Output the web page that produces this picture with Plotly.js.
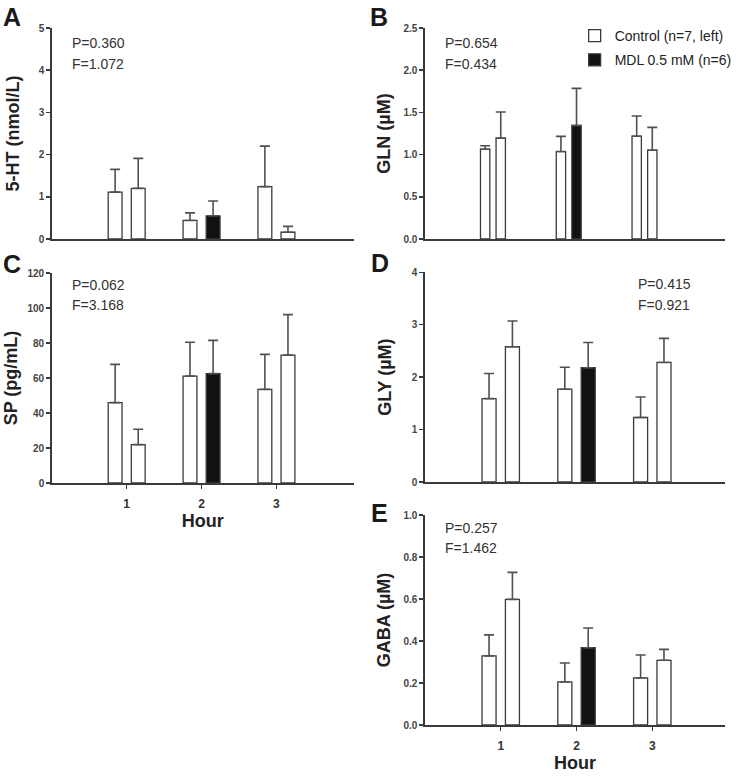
<!DOCTYPE html>
<html>
<head>
<meta charset="utf-8">
<script src="https://cdn.plot.ly/plotly-3.0.1.min.js"></script>
<style>
  html, body { margin: 0; padding: 0; background: #ffffff; }
  #chart { width: 737px; height: 778px; }
</style>
</head>
<body>
<div id="chart"></div>
<script>
// ---------------- data ----------------
const hours = [1, 2, 3];
const hourLabels = ['1', '2', '3'];

const seriesNames = ['Control (n=7, left)', 'MDL 0.5 mM (n=6)'];

// Panel A: 5-HT (nmol/L)
const htLeft = [1.11, 0.44, 1.24];
const htLeftErr = [0.54, 0.18, 0.96];
const htRight = [1.20, 0.55, 0.16];
const htRightErr = [0.71, 0.35, 0.14];

// Panel B: GLN (µM)
const glnLeft = [1.064, 1.036, 1.218];
const glnLeftErr = [0.04, 0.18, 0.24];
const glnRight = [1.195, 1.345, 1.052];
const glnRightErr = [0.31, 0.44, 0.27];

// Panel C: SP (pg/mL)
const spLeft = [45.9, 61.1, 53.5];
const spLeftErr = [21.9, 19.3, 20.0];
const spRight = [21.9, 62.5, 73.1];
const spRightErr = [8.8, 19.0, 23.1];

// Panel D: GLY (µM)
const glyLeft = [1.59, 1.77, 1.23];
const glyLeftErr = [0.48, 0.42, 0.39];
const glyRight = [2.58, 2.18, 2.28];
const glyRightErr = [0.49, 0.48, 0.46];

// Panel E: GABA (µM)
const gabaLeft = [0.329, 0.205, 0.224];
const gabaLeftErr = [0.10, 0.09, 0.109];
const gabaRight = [0.598, 0.368, 0.308];
const gabaRightErr = [0.129, 0.094, 0.052];

// fill of the right-hand bar in each hour group
const rightFill = ['#ffffff', '#111111', '#ffffff'];

const panelStats = {
  A: ['P=0.360', 'F=1.072'],
  B: ['P=0.654', 'F=0.434'],
  C: ['P=0.062', 'F=3.168'],
  D: ['P=0.415', 'F=0.921'],
  E: ['P=0.257', 'F=1.462']
};

// ---------------- styling ----------------
const W = 737, H = 778;
const AX = '#3a3a3a';
const FONT = 'Arial, "Liberation Sans", Helvetica, sans-serif';

function px2x(p) { return p / W; }
function px2y(p) { return 1 - p / H; }

const panels = [
  { key: 'A', ax: '', left: htLeft, lErr: htLeftErr, right: htRight, rErr: htRightErr, legend: false },
  { key: 'B', ax: '2', left: glnLeft, lErr: glnLeftErr, right: glnRight, rErr: glnRightErr, legend: true },
  { key: 'C', ax: '3', left: spLeft, lErr: spLeftErr, right: spRight, rErr: spRightErr, legend: false },
  { key: 'D', ax: '4', left: glyLeft, lErr: glyLeftErr, right: glyRight, rErr: glyRightErr, legend: false },
  { key: 'E', ax: '5', left: gabaLeft, lErr: gabaLeftErr, right: gabaRight, rErr: gabaRightErr, legend: false }
];

function zeros(n) { return new Array(n).fill(0); }

const traces = [];
panels.forEach(p => {
  const common = {
    type: 'bar',
    x: hours,
    xaxis: 'x' + p.ax,
    yaxis: 'y' + p.ax,
    hoverinfo: 'y'
  };
  traces.push(Object.assign({}, common, {
    name: seriesNames[0],
    y: p.left,
    showlegend: p.legend,
    legendgroup: 'g1',
    marker: { color: '#ffffff', line: { color: AX, width: 1.3 } },
    error_y: { type: 'data', array: p.lErr, arrayminus: zeros(p.lErr.length), symmetric: false,
               color: '#505050', thickness: 1.6, width: 5 }
  }));
  traces.push(Object.assign({}, common, {
    name: seriesNames[1],
    y: p.right,
    showlegend: false,
    legendgroup: 'g2',
    marker: { color: rightFill, line: { color: AX, width: 1.3 } },
    error_y: { type: 'data', array: p.rErr, arrayminus: zeros(p.rErr.length), symmetric: false,
               color: '#505050', thickness: 1.6, width: 5 }
  }));
});

// legend-only entry for the black (MDL) bar
traces.push({
  type: 'bar', x: [null], y: [null], xaxis: 'x2', yaxis: 'y2',
  name: seriesNames[1], showlegend: true, legendgroup: 'g2',
  marker: { color: '#111111', line: { color: AX, width: 1.3 } }
});

const leftDom = [px2x(52), px2x(355)];
const rightDom = [px2x(426.7), px2x(728)];

function xax(dom, showLabels, xmax) {
  return {
    domain: dom,
    range: [0, xmax],
    showgrid: false, zeroline: false,
    showline: true, linecolor: AX, linewidth: 1.6,
    ticks: showLabels ? 'outside' : '',
    ticklen: 4, tickwidth: 1.5, tickcolor: AX,
    tickvals: hours, ticktext: hourLabels,
    showticklabels: showLabels,
    ticklabelstandoff: 5,
    tickfont: { family: FONT, size: 12, color: '#333', weight: 'bold' },
    title: showLabels ? { text: 'Hour', font: { family: FONT, size: 18, color: '#222', weight: 'bold' }, standoff: 3 } : { text: '' },
    fixedrange: true
  };
}

function yax(domPx, range, dtick, fmt, title, anchor, standoff) {
  return {
    domain: [px2y(domPx[1]), px2y(domPx[0])],
    range: range,
    anchor: anchor,
    dtick: dtick, tick0: 0,
    tickformat: fmt,
    showgrid: false, zeroline: false,
    showline: true, linecolor: AX, linewidth: 1.6,
    ticks: 'outside', ticklen: 4, tickwidth: 1.5, tickcolor: AX,
    tickfont: { family: FONT, size: 10, color: '#444', weight: 'bold' },
    title: { text: title, font: { family: FONT, size: 18, color: '#222', weight: 'bold' }, standoff: standoff },
    fixedrange: true
  };
}

const annotations = [];
function addText(text, xpx, ypx, size, bold, anchorX) {
  annotations.push({
    text: text, xref: 'paper', yref: 'paper',
    x: px2x(xpx), y: px2y(ypx), xanchor: anchorX || 'left', yanchor: 'middle',
    showarrow: false,
    font: { family: FONT, size: size, color: bold ? '#1a1a1a' : '#333', weight: bold ? 'bold' : 'normal' }
  });
}
// panel letters
addText('A', 1, 17, 25, true);
addText('B', 370, 17, 25, true);
addText('C', 1, 264, 25, true);
addText('D', 371, 263, 25, true);
addText('E', 371, 513, 25, true);
// statistics
addText(panelStats.A[0], 70, 43, 14, false);
addText(panelStats.A[1], 70, 64, 14, false);
addText(panelStats.B[0], 445, 43, 14, false);
addText(panelStats.B[1], 445, 64, 14, false);
addText(panelStats.C[0], 70, 285, 14, false);
addText(panelStats.C[1], 70, 305, 14, false);
addText(panelStats.D[0], 639, 284, 14, false);
addText(panelStats.D[1], 639, 305, 14, false);
addText(panelStats.E[0], 445, 528, 14, false);
addText(panelStats.E[1], 445, 548, 14, false);

const layout = {
  width: W, height: H,
  margin: { l: 0, r: 0, t: 0, b: 0 },
  paper_bgcolor: '#ffffff', plot_bgcolor: 'rgba(0,0,0,0)',
  font: { family: FONT, color: '#222' },
  barmode: 'group',
  bargap: 0.383,
  bargroupgap: 0.40,
  showlegend: true,
  legend: {
    x: px2x(577), y: px2y(20), xanchor: 'left', yanchor: 'top',
    bgcolor: 'rgba(0,0,0,0)',
    font: { family: FONT, size: 14, color: '#222' },
    tracegroupgap: 3,
    itemwidth: 30
  },
  xaxis: xax(leftDom, false, 4.03),
  xaxis2: xax(rightDom, false, 3.96),
  xaxis3: xax(leftDom, true, 4.03),
  xaxis4: xax(rightDom, false, 3.96),
  xaxis5: xax(rightDom, true, 3.96),
  yaxis: yax([28, 239], [0, 5], 1, 'd', '5-HT (nmol/L)', 'x', 14),
  yaxis2: yax([28, 239], [0, 2.5], 0.5, '.1f', 'GLN (µM)', 'x2', 8),
  yaxis3: yax([273, 483], [0, 120], 20, 'd', 'SP (pg/mL)', 'x3', 5),
  yaxis4: yax([272.3, 482], [0, 4], 1, 'd', 'GLY (µM)', 'x4', 15),
  yaxis5: yax([515, 725], [0, 1.0], 0.2, '.1f', 'GABA (µM)', 'x5', 8),
  annotations: annotations
};
layout.xaxis.anchor = 'y';
layout.xaxis2.anchor = 'y2';
layout.xaxis3.anchor = 'y3';
layout.xaxis4.anchor = 'y4';
layout.xaxis5.anchor = 'y5';

Plotly.newPlot('chart', traces, layout, { displayModeBar: false, staticPlot: true });
</script>
</body>
</html>
